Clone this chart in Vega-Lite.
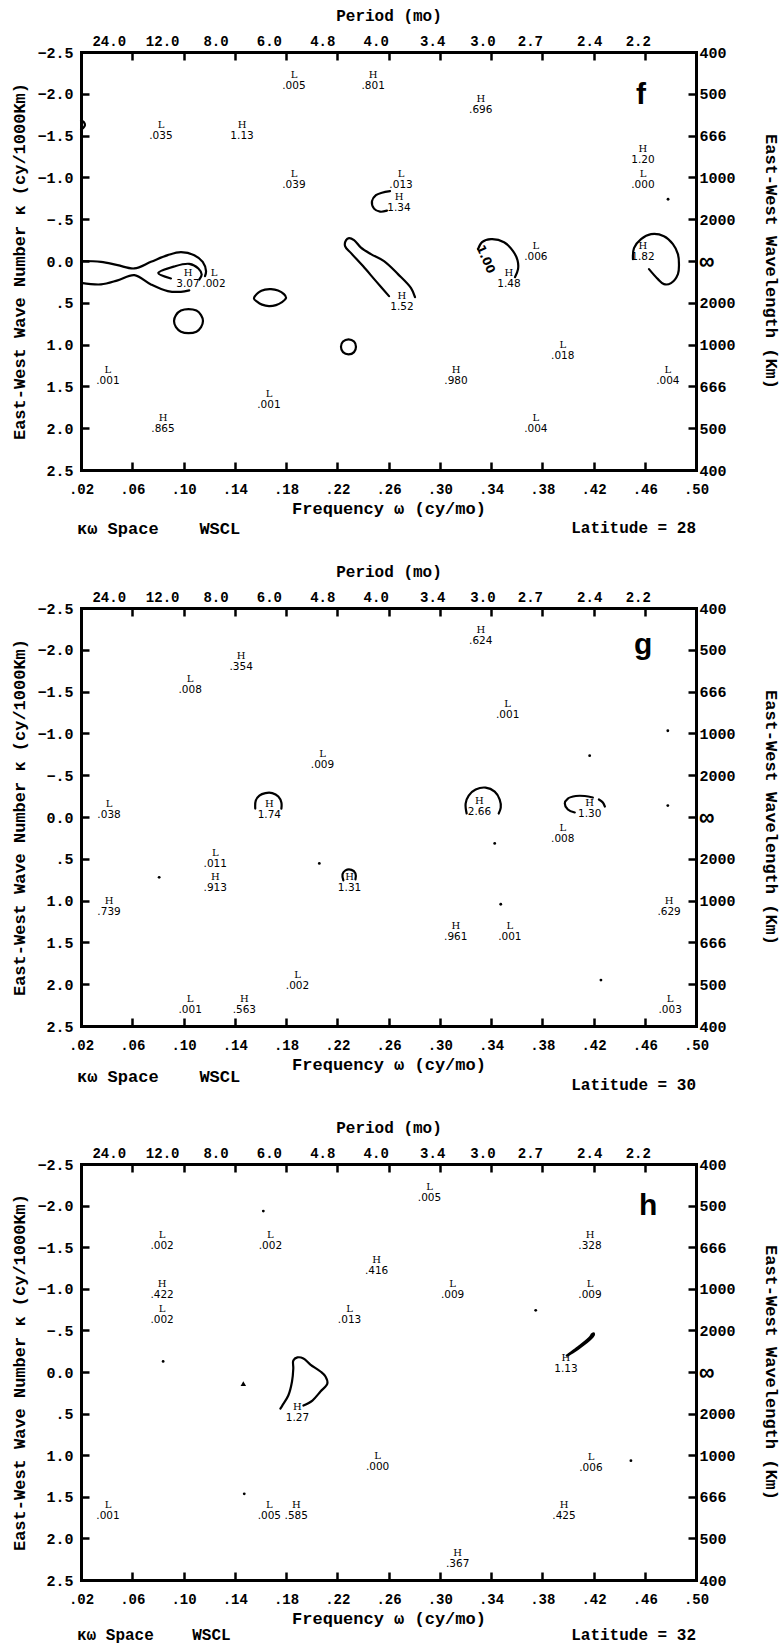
{
"$schema": "https://vega.github.io/schema/vega-lite/v6.json",
"background": "white",
"padding": {"left": 10, "top": 7, "right": 0, "bottom": 3},
"spacing": 26,
"config": {
  "view": {"stroke": null},
  "axis": {"grid": false, "labelFlush": false, "labelOverlap": false, "domainColor": "black", "tickColor": "black", "labelColor": "black", "titleColor": "black", "domainWidth": 3, "tickWidth": 2.5, "domainCap": "square", "labelFont": "Liberation Mono", "labelFontWeight": "bold", "labelFontSize": 14, "titleFont": "Liberation Mono", "titleFontWeight": "bold", "titleFontSize": 17}
},
"datasets": {
  "lab": [
    {"p":"f","x":0.1862,"y":-2.162,"t":"L","v":".005"},
    {"p":"f","x":0.248,"y":-2.16,"t":"H","v":".801"},
    {"p":"f","x":0.0824,"y":-1.564,"t":"L","v":".035"},
    {"p":"f","x":0.1457,"y":-1.564,"t":"H","v":"1.13"},
    {"p":"f","x":0.1862,"y":-0.979,"t":"L","v":".039"},
    {"p":"f","x":0.2698,"y":-0.979,"t":"L","v":".013"},
    {"p":"f","x":0.2682,"y":-0.704,"t":"H","v":"1.34"},
    {"p":"f","x":0.332,"y":-1.875,"t":"H","v":".696"},
    {"p":"f","x":0.4586,"y":-1.277,"t":"H","v":"1.20"},
    {"p":"f","x":0.4586,"y":-0.979,"t":"L","v":".000"},
    {"p":"f","x":0.1035,"y":0.205,"t":"H","v":"3.07"},
    {"p":"f","x":0.1238,"y":0.205,"t":"L","v":".002"},
    {"p":"f","x":0.2705,"y":0.479,"t":"H","v":"1.52"},
    {"p":"f","x":0.375,"y":-0.118,"t":"L","v":".006"},
    {"p":"f","x":0.354,"y":0.205,"t":"H","v":"1.48"},
    {"p":"f","x":0.4586,"y":-0.112,"t":"H","v":"1.82"},
    {"p":"f","x":0.396,"y":1.065,"t":"L","v":".018"},
    {"p":"f","x":0.3127,"y":1.364,"t":"H","v":".980"},
    {"p":"f","x":0.478,"y":1.364,"t":"L","v":".004"},
    {"p":"f","x":0.375,"y":1.938,"t":"L","v":".004"},
    {"p":"f","x":0.041,"y":1.364,"t":"L","v":".001"},
    {"p":"f","x":0.1667,"y":1.651,"t":"L","v":".001"},
    {"p":"f","x":0.084,"y":1.944,"t":"H","v":".865"},
    {"p":"g","x":0.145,"y":-1.862,"t":"H","v":".354"},
    {"p":"g","x":0.1052,"y":-1.581,"t":"L","v":".008"},
    {"p":"g","x":0.2085,"y":-0.686,"t":"L","v":".009"},
    {"p":"g","x":0.0419,"y":-0.0955,"t":"L","v":".038"},
    {"p":"g","x":0.167,"y":-0.09,"t":"H","v":"1.74"},
    {"p":"g","x":0.332,"y":-2.166,"t":"H","v":".624"},
    {"p":"g","x":0.353,"y":-1.289,"t":"L","v":".001"},
    {"p":"g","x":0.331,"y":-0.125,"t":"H","v":"2.66"},
    {"p":"g","x":0.417,"y":-0.107,"t":"H","v":"1.30"},
    {"p":"g","x":0.396,"y":0.197,"t":"L","v":".008"},
    {"p":"g","x":0.479,"y":1.068,"t":"H","v":".629"},
    {"p":"g","x":0.3125,"y":1.366,"t":"H","v":".961"},
    {"p":"g","x":0.3547,"y":1.366,"t":"L","v":".001"},
    {"p":"g","x":0.4798,"y":2.237,"t":"L","v":".003"},
    {"p":"g","x":0.1248,"y":0.495,"t":"L","v":".011"},
    {"p":"g","x":0.1248,"y":0.782,"t":"H","v":".913"},
    {"p":"g","x":0.2296,"y":0.782,"t":"H","v":"1.31"},
    {"p":"g","x":0.0419,"y":1.074,"t":"H","v":".739"},
    {"p":"g","x":0.189,"y":1.951,"t":"L","v":".002"},
    {"p":"g","x":0.1052,"y":2.243,"t":"L","v":".001"},
    {"p":"g","x":0.1475,"y":2.243,"t":"H","v":".563"},
    {"p":"h","x":0.0833,"y":-1.584,"t":"L","v":".002"},
    {"p":"h","x":0.1678,"y":-1.584,"t":"L","v":".002"},
    {"p":"h","x":0.0833,"y":-0.994,"t":"H","v":".422"},
    {"p":"h","x":0.0833,"y":-0.693,"t":"L","v":".002"},
    {"p":"h","x":0.2507,"y":-1.283,"t":"H","v":".416"},
    {"p":"h","x":0.2296,"y":-0.693,"t":"L","v":".013"},
    {"p":"h","x":0.292,"y":-2.163,"t":"L","v":".005"},
    {"p":"h","x":0.4173,"y":-1.584,"t":"H","v":".328"},
    {"p":"h","x":0.31,"y":-0.994,"t":"L","v":".009"},
    {"p":"h","x":0.4173,"y":-0.994,"t":"L","v":".009"},
    {"p":"h","x":0.3985,"y":-0.105,"t":"H","v":"1.13"},
    {"p":"h","x":0.1889,"y":0.488,"t":"H","v":"1.27"},
    {"p":"h","x":0.0411,"y":1.669,"t":"L","v":".001"},
    {"p":"h","x":0.167,"y":1.669,"t":"L","v":".005"},
    {"p":"h","x":0.188,"y":1.669,"t":"H","v":".585"},
    {"p":"h","x":0.2515,"y":1.078,"t":"L","v":".000"},
    {"p":"h","x":0.418,"y":1.084,"t":"L","v":".006"},
    {"p":"h","x":0.397,"y":1.669,"t":"H","v":".425"},
    {"p":"h","x":0.314,"y":2.241,"t":"H","v":".367"}
  ],
  "lin": [
    {"p":"f","id":"f1","o":1,"x":0.02,"y":0.0},
    {"p":"f","id":"f1","o":2,"x":0.0356,"y":0.01},
    {"p":"f","id":"f1","o":3,"x":0.0486,"y":0.05},
    {"p":"f","id":"f1","o":4,"x":0.0616,"y":0.089},
    {"p":"f","id":"f1","o":5,"x":0.0746,"y":0.01},
    {"p":"f","id":"f1","o":6,"x":0.0877,"y":-0.07},
    {"p":"f","id":"f1","o":7,"x":0.098,"y":-0.106},
    {"p":"f","id":"f1","o":8,"x":0.1084,"y":-0.07},
    {"p":"f","id":"f1","o":9,"x":0.115,"y":0.01},
    {"p":"f","id":"f1","o":10,"x":0.1176,"y":0.121},
    {"p":"f","id":"f1","o":11,"x":0.1168,"y":0.181},
    {"p":"f","id":"f2","o":1,"x":0.02,"y":0.261},
    {"p":"f","id":"f2","o":2,"x":0.0356,"y":0.28},
    {"p":"f","id":"f2","o":3,"x":0.0486,"y":0.232},
    {"p":"f","id":"f2","o":4,"x":0.0616,"y":0.169},
    {"p":"f","id":"f2","o":5,"x":0.0746,"y":0.28},
    {"p":"f","id":"f2","o":6,"x":0.0877,"y":0.36},
    {"p":"f","id":"f2","o":7,"x":0.098,"y":0.369},
    {"p":"f","id":"f2","o":8,"x":0.1045,"y":0.352},
    {"p":"f","id":"f3","o":1,"x":0.0902,"y":0.209},
    {"p":"f","id":"f3","o":2,"x":0.0803,"y":0.145},
    {"p":"f","id":"f3","o":3,"x":0.0928,"y":0.065},
    {"p":"f","id":"f3","o":4,"x":0.1045,"y":0.034},
    {"p":"f","id":"f3","o":5,"x":0.1116,"y":0.089},
    {"p":"f","id":"f3","o":6,"x":0.1142,"y":0.161},
    {"p":"f","id":"f3","o":7,"x":0.1123,"y":0.221},
    {"p":"f","id":"f7","o":1,"x":0.2604,"y":0.42},
    {"p":"f","id":"f7","o":2,"x":0.2502,"y":0.241},
    {"p":"f","id":"f7","o":3,"x":0.2401,"y":0.061},
    {"p":"f","id":"f7","o":4,"x":0.2308,"y":-0.094},
    {"p":"f","id":"f7","o":5,"x":0.2261,"y":-0.178},
    {"p":"f","id":"f7","o":6,"x":0.2269,"y":-0.25},
    {"p":"f","id":"f7","o":7,"x":0.2292,"y":-0.274},
    {"p":"f","id":"f7","o":8,"x":0.2331,"y":-0.25},
    {"p":"f","id":"f7","o":9,"x":0.2385,"y":-0.16},
    {"p":"f","id":"f7","o":10,"x":0.2463,"y":-0.082},
    {"p":"f","id":"f7","o":11,"x":0.2565,"y":0.002},
    {"p":"f","id":"f7","o":12,"x":0.2674,"y":0.157},
    {"p":"f","id":"f7","o":13,"x":0.2776,"y":0.324},
    {"p":"f","id":"f7","o":14,"x":0.2807,"y":0.432},
    {"p":"f","id":"f8","o":1,"x":0.2612,"y":-0.835},
    {"p":"f","id":"f8","o":2,"x":0.2549,"y":-0.817},
    {"p":"f","id":"f8","o":3,"x":0.2502,"y":-0.787},
    {"p":"f","id":"f8","o":4,"x":0.2471,"y":-0.715},
    {"p":"f","id":"f8","o":5,"x":0.2487,"y":-0.626},
    {"p":"f","id":"f8","o":6,"x":0.2534,"y":-0.59},
    {"p":"f","id":"f8","o":7,"x":0.2588,"y":-0.602},
    {"p":"f","id":"f9","o":1,"x":0.3299,"y":-0.142},
    {"p":"f","id":"f9","o":2,"x":0.333,"y":-0.225},
    {"p":"f","id":"f9","o":3,"x":0.34,"y":-0.261},
    {"p":"f","id":"f9","o":4,"x":0.3502,"y":-0.225},
    {"p":"f","id":"f9","o":5,"x":0.3572,"y":-0.118},
    {"p":"f","id":"f9","o":6,"x":0.3607,"y":-0.01},
    {"p":"f","id":"f9","o":7,"x":0.3611,"y":0.097},
    {"p":"f","id":"f9","o":8,"x":0.3587,"y":0.193},
    {"p":"f","id":"f10","o":1,"x":0.4508,"y":-0.022},
    {"p":"f","id":"f10","o":2,"x":0.4516,"y":-0.154},
    {"p":"f","id":"f10","o":3,"x":0.4571,"y":-0.261},
    {"p":"f","id":"f10","o":4,"x":0.4649,"y":-0.321},
    {"p":"f","id":"f10","o":5,"x":0.475,"y":-0.297},
    {"p":"f","id":"f10","o":6,"x":0.482,"y":-0.202},
    {"p":"f","id":"f10","o":7,"x":0.4859,"y":-0.082},
    {"p":"f","id":"f10","o":8,"x":0.4867,"y":0.037},
    {"p":"f","id":"f10","o":9,"x":0.4859,"y":0.157},
    {"p":"f","id":"f10","o":10,"x":0.4805,"y":0.265},
    {"p":"f","id":"f10","o":11,"x":0.475,"y":0.277},
    {"p":"f","id":"f10","o":12,"x":0.4703,"y":0.217},
    {"p":"f","id":"f10","o":13,"x":0.4633,"y":0.097},
    {"p":"f","id":"f11","o":1,"x":0.02,"y":-1.684},
    {"p":"f","id":"f11","o":2,"x":0.0223,"y":-1.66},
    {"p":"f","id":"f11","o":3,"x":0.0231,"y":-1.624},
    {"p":"f","id":"f11","o":4,"x":0.0216,"y":-1.588},
    {"p":"f","id":"f11","o":5,"x":0.02,"y":-1.576},
    {"p":"g","id":"g1","o":1,"x":0.156,"y":-0.101},
    {"p":"g","id":"g1","o":2,"x":0.1564,"y":-0.197},
    {"p":"g","id":"g1","o":3,"x":0.1592,"y":-0.257},
    {"p":"g","id":"g1","o":4,"x":0.1639,"y":-0.286},
    {"p":"g","id":"g1","o":5,"x":0.1693,"y":-0.286},
    {"p":"g","id":"g1","o":6,"x":0.174,"y":-0.245},
    {"p":"g","id":"g1","o":7,"x":0.1764,"y":-0.173},
    {"p":"g","id":"g1","o":8,"x":0.1764,"y":-0.101},
    {"p":"g","id":"g2","o":1,"x":0.321,"y":-0.042},
    {"p":"g","id":"g2","o":2,"x":0.3202,"y":-0.161},
    {"p":"g","id":"g2","o":3,"x":0.3226,"y":-0.257},
    {"p":"g","id":"g2","o":4,"x":0.328,"y":-0.328},
    {"p":"g","id":"g2","o":5,"x":0.3358,"y":-0.352},
    {"p":"g","id":"g2","o":6,"x":0.3429,"y":-0.304},
    {"p":"g","id":"g2","o":7,"x":0.3468,"y":-0.209},
    {"p":"g","id":"g2","o":8,"x":0.3476,"y":-0.113},
    {"p":"g","id":"g2","o":9,"x":0.346,"y":-0.042},
    {"p":"g","id":"g3","o":1,"x":0.4054,"y":-0.054},
    {"p":"g","id":"g3","o":2,"x":0.4,"y":-0.09},
    {"p":"g","id":"g3","o":3,"x":0.3976,"y":-0.161},
    {"p":"g","id":"g3","o":4,"x":0.4,"y":-0.221},
    {"p":"g","id":"g3","o":5,"x":0.4062,"y":-0.251},
    {"p":"g","id":"g3","o":6,"x":0.4132,"y":-0.251},
    {"p":"g","id":"g3","o":7,"x":0.4195,"y":-0.233},
    {"p":"g","id":"g4","o":1,"x":0.4242,"y":-0.209},
    {"p":"g","id":"g4","o":2,"x":0.4273,"y":-0.173},
    {"p":"g","id":"g4","o":3,"x":0.4289,"y":-0.125},
    {"p":"g","id":"g5","o":1,"x":0.2248,"y":0.758},
    {"p":"g","id":"g5","o":2,"x":0.2241,"y":0.686},
    {"p":"g","id":"g5","o":3,"x":0.2264,"y":0.638},
    {"p":"g","id":"g5","o":4,"x":0.2311,"y":0.632},
    {"p":"g","id":"g5","o":5,"x":0.2342,"y":0.674},
    {"p":"g","id":"g5","o":6,"x":0.2342,"y":0.746},
    {"p":"h","id":"h1","o":1,"x":0.1756,"y":0.44},
    {"p":"h","id":"h1","o":2,"x":0.1771,"y":0.404},
    {"p":"h","id":"h1","o":3,"x":0.1818,"y":0.283},
    {"p":"h","id":"h1","o":4,"x":0.1847,"y":0.114},
    {"p":"h","id":"h1","o":5,"x":0.1857,"y":-0.042},
    {"p":"h","id":"h1","o":6,"x":0.1857,"y":-0.139},
    {"p":"h","id":"h1","o":7,"x":0.1889,"y":-0.175},
    {"p":"h","id":"h1","o":8,"x":0.1936,"y":-0.163},
    {"p":"h","id":"h1","o":9,"x":0.199,"y":-0.09},
    {"p":"h","id":"h1","o":10,"x":0.2069,"y":-0.006},
    {"p":"h","id":"h1","o":11,"x":0.2108,"y":0.054},
    {"p":"h","id":"h1","o":12,"x":0.2123,"y":0.139},
    {"p":"h","id":"h1","o":13,"x":0.2069,"y":0.235},
    {"p":"h","id":"h1","o":14,"x":0.2006,"y":0.343},
    {"p":"h","id":"h1","o":15,"x":0.1936,"y":0.404}
  ],
  "loop": [
    {"p":"f","id":"f4","o":1,"x":0.155,"y":0.444},
    {"p":"f","id":"f4","o":2,"x":0.1589,"y":0.372},
    {"p":"f","id":"f4","o":3,"x":0.1636,"y":0.342},
    {"p":"f","id":"f4","o":4,"x":0.1683,"y":0.336},
    {"p":"f","id":"f4","o":5,"x":0.1738,"y":0.354},
    {"p":"f","id":"f4","o":6,"x":0.1784,"y":0.396},
    {"p":"f","id":"f4","o":7,"x":0.18,"y":0.444},
    {"p":"f","id":"f4","o":8,"x":0.1769,"y":0.492},
    {"p":"f","id":"f4","o":9,"x":0.1722,"y":0.528},
    {"p":"f","id":"f4","o":10,"x":0.1667,"y":0.54},
    {"p":"f","id":"f4","o":11,"x":0.1613,"y":0.522},
    {"p":"f","id":"f4","o":12,"x":0.1574,"y":0.486},
    {"p":"f","id":"f5","o":1,"x":0.1152,"y":0.719},
    {"p":"f","id":"f5","o":2,"x":0.1137,"y":0.647},
    {"p":"f","id":"f5","o":3,"x":0.1101,"y":0.593},
    {"p":"f","id":"f5","o":4,"x":0.1039,"y":0.575},
    {"p":"f","id":"f5","o":5,"x":0.098,"y":0.593},
    {"p":"f","id":"f5","o":6,"x":0.0941,"y":0.647},
    {"p":"f","id":"f5","o":7,"x":0.0926,"y":0.719},
    {"p":"f","id":"f5","o":8,"x":0.0941,"y":0.791},
    {"p":"f","id":"f5","o":9,"x":0.098,"y":0.845},
    {"p":"f","id":"f5","o":10,"x":0.1039,"y":0.863},
    {"p":"f","id":"f5","o":11,"x":0.1101,"y":0.845},
    {"p":"f","id":"f5","o":12,"x":0.1137,"y":0.791},
    {"p":"f","id":"f6","o":1,"x":0.2346,"y":1.026},
    {"p":"f","id":"f6","o":2,"x":0.2331,"y":0.964},
    {"p":"f","id":"f6","o":3,"x":0.2288,"y":0.937},
    {"p":"f","id":"f6","o":4,"x":0.2245,"y":0.964},
    {"p":"f","id":"f6","o":5,"x":0.2229,"y":1.026},
    {"p":"f","id":"f6","o":6,"x":0.2245,"y":1.09},
    {"p":"f","id":"f6","o":7,"x":0.2288,"y":1.116},
    {"p":"f","id":"f6","o":8,"x":0.2331,"y":1.09},
    {"p":"h","id":"h2","o":1,"x":0.3992,"y":-0.199},
    {"p":"h","id":"h2","o":2,"x":0.4078,"y":-0.295},
    {"p":"h","id":"h2","o":3,"x":0.4164,"y":-0.404},
    {"p":"h","id":"h2","o":4,"x":0.4187,"y":-0.452},
    {"p":"h","id":"h2","o":5,"x":0.4203,"y":-0.464},
    {"p":"h","id":"h2","o":6,"x":0.4195,"y":-0.428},
    {"p":"h","id":"h2","o":7,"x":0.4125,"y":-0.331},
    {"p":"h","id":"h2","o":8,"x":0.4039,"y":-0.235}
  ],
  "dot": [
    {"p":"f","x":0.4782,"y":-0.739},
    {"p":"g","x":0.478,"y":-1.032},
    {"p":"g","x":0.417,"y":-0.734},
    {"p":"g","x":0.478,"y":-0.137},
    {"p":"g","x":0.3429,"y":0.316},
    {"p":"g","x":0.3476,"y":1.044},
    {"p":"g","x":0.4258,"y":1.951},
    {"p":"g","x":0.081,"y":0.722},
    {"p":"g","x":0.206,"y":0.555},
    {"p":"h","x":0.1623,"y":-1.934},
    {"p":"h","x":0.0841,"y":-0.127},
    {"p":"h","x":0.3749,"y":-0.741},
    {"p":"h","x":0.1474,"y":1.464},
    {"p":"h","x":0.4492,"y":1.066}
  ]
},
"vconcat": [
  {
    "width": 615, "height": 418,
    "resolve": {"axis": {"x": "independent", "y": "independent"}},
    "layer": [
      {"data": {"name": "lin"}, "transform": [{"filter": "datum.p == 'f'"}],
       "mark": {"type": "line", "color": "black", "strokeWidth": 2.2, "interpolate": "catmull-rom", "strokeCap": "round", "strokeJoin": "round"},
       "encoding": {
         "x": {"field": "x", "type": "quantitative", "scale": {"domain": [0.02, 0.5], "nice": false, "zero": false},
               "axis": {"orient": "bottom", "values": [0.02,0.06,0.1,0.14,0.18,0.22,0.26,0.3,0.34,0.38,0.42,0.46,0.5], "labelExpr": "replace(format(datum.value, '.2f'), '0.', '.')", "tickSize": -8, "labelPadding": 20, "title": "Frequency ω (cy/mo)", "titlePadding": 4}},
         "y": {"field": "y", "type": "quantitative", "scale": {"domain": [-2.5, 2.5], "reverse": true, "nice": false, "zero": false},
               "axis": {"orient": "left", "values": [-2.5,-2,-1.5,-1,-0.5,0,0.5,1,1.5,2,2.5], "labelExpr": "datum.value == 0 ? '0.0' : replace(format(datum.value, '.1f'), '0.5', '.5')", "tickSize": -8, "labelPadding": 16, "labelFontSize": 15, "title": "East-West Wave Number κ (cy/1000Km)", "titlePadding": 8}},
         "detail": {"field": "id"}, "order": {"field": "o"}}},
      {"data": {"name": "lab"}, "transform": [{"filter": "datum.p == 'f'"}],
       "mark": {"type": "text", "font": "DejaVu Serif", "fontSize": 10, "dy": -5.5, "color": "black"},
       "encoding": {
         "x": {"field": "x", "type": "quantitative", "scale": {"domain": [0.02, 0.5], "nice": false, "zero": false},
               "axis": {"orient": "top", "values": [0.0416667,0.0833333,0.125,0.1666667,0.2083333,0.25,0.2941176,0.3333333,0.3703704,0.4166667,0.4545455], "labelExpr": "format(1 / datum.value, '.1f')", "ticks": false, "domain": false, "labelPadding": 4, "title": "Period (mo)", "titleFontSize": 16, "titlePadding": 11}},
         "y": {"field": "y", "type": "quantitative", "scale": {"domain": [-2.5, 2.5], "reverse": true, "nice": false, "zero": false},
               "axis": {"orient": "right", "values": [-2.5,-2,-1.5,-1,-0.5,0,0.5,1,1.5,2,2.5], "labelExpr": "datum.value == 0 ? '∞' : format(floor(1000 / abs(datum.value) + 0.000001), 'd')", "tickSize": -8, "labelPadding": 11, "labelFontSize": {"condition": {"test": "datum.value == 0", "value": 24}, "value": 15}, "title": "East-West Wavelength (Km)", "titlePadding": 26}},
         "text": {"field": "t"}}},
      {"data": {"name": "lab"}, "transform": [{"filter": "datum.p == 'f'"}],
       "mark": {"type": "text", "font": "DejaVu Sans", "fontSize": 10.5, "dy": 5.5, "color": "black"},
       "encoding": {
         "x": {"field": "x", "type": "quantitative", "scale": {"domain": [0.02, 0.5], "nice": false, "zero": false},
               "axis": {"orient": "top", "values": [0.06,0.1,0.14,0.18,0.22,0.26,0.3,0.34,0.38,0.42,0.46], "labels": false, "tickSize": -8, "title": null}},
         "y": {"field": "y", "type": "quantitative", "scale": {"domain": [-2.5, 2.5], "reverse": true, "nice": false, "zero": false}, "axis": null},
         "text": {"field": "v"}}},
      {"data": {"name": "loop"}, "transform": [{"filter": "datum.p == 'f'"}],
       "mark": {"type": "line", "color": "black", "strokeWidth": 2.2, "interpolate": "cardinal-closed"},
       "encoding": {
         "x": {"field": "x", "type": "quantitative", "scale": {"domain": [0.02, 0.5], "nice": false, "zero": false}, "axis": null},
         "y": {"field": "y", "type": "quantitative", "scale": {"domain": [-2.5, 2.5], "reverse": true, "nice": false, "zero": false}, "axis": null},
         "detail": {"field": "id"}, "order": {"field": "o"}}},
      {"data": {"name": "dot"}, "transform": [{"filter": "datum.p == 'f'"}],
       "mark": {"type": "point", "filled": true, "color": "black", "size": 8, "opacity": 1},
       "encoding": {
         "x": {"field": "x", "type": "quantitative", "scale": {"domain": [0.02, 0.5], "nice": false, "zero": false}, "axis": null},
         "y": {"field": "y", "type": "quantitative", "scale": {"domain": [-2.5, 2.5], "reverse": true, "nice": false, "zero": false}, "axis": null}}},
      {"data": {"values": [{}]},
       "mark": {"type": "text", "text": "1.00", "angle": 66, "font": "DejaVu Sans", "fontWeight": "bold", "fontSize": 12, "color": "black"},
       "encoding": {
         "x": {"datum": 0.336, "type": "quantitative", "scale": {"domain": [0.02, 0.5], "nice": false, "zero": false}, "axis": null},
         "y": {"datum": -0.022, "type": "quantitative", "scale": {"domain": [-2.5, 2.5], "reverse": true, "nice": false, "zero": false}, "axis": null}}},
      {"data": {"values": [{}]},
       "mark": {"type": "text", "text": "f", "font": "Liberation Sans", "fontWeight": "bold", "fontSize": 30, "baseline": "middle", "color": "black"},
       "encoding": {
         "x": {"datum": 0.457, "type": "quantitative", "scale": {"domain": [0.02, 0.5], "nice": false, "zero": false}, "axis": null},
         "y": {"datum": -1.99, "type": "quantitative", "scale": {"domain": [-2.5, 2.5], "reverse": true, "nice": false, "zero": false}, "axis": null}}},
      {"data": {"values": [{}]},
       "mark": {"type": "text", "text": "κω Space\u00a0\u00a0\u00a0\u00a0WSCL", "align": "left", "baseline": "middle", "dx": -4, "dy": 59, "font": "Liberation Mono", "fontWeight": "bold", "fontSize": 17, "color": "black"},
       "encoding": {
         "x": {"datum": 0.02, "type": "quantitative", "scale": {"domain": [0.02, 0.5], "nice": false, "zero": false}, "axis": null},
         "y": {"datum": 2.5, "type": "quantitative", "scale": {"domain": [-2.5, 2.5], "reverse": true, "nice": false, "zero": false}, "axis": null}}},
      {"data": {"values": [{}]},
       "mark": {"type": "text", "text": "Latitude = 28", "align": "right", "baseline": "middle", "dy": 58, "font": "Liberation Mono", "fontWeight": "bold", "fontSize": 16, "color": "black"},
       "encoding": {
         "x": {"datum": 0.5, "type": "quantitative", "scale": {"domain": [0.02, 0.5], "nice": false, "zero": false}, "axis": null},
         "y": {"datum": 2.5, "type": "quantitative", "scale": {"domain": [-2.5, 2.5], "reverse": true, "nice": false, "zero": false}, "axis": null}}}
    ]
  },
  {
    "width": 615, "height": 418,
    "resolve": {"axis": {"x": "independent", "y": "independent"}},
    "layer": [
      {"data": {"name": "lin"}, "transform": [{"filter": "datum.p == 'g'"}],
       "mark": {"type": "line", "color": "black", "strokeWidth": 2.2, "interpolate": "catmull-rom", "strokeCap": "round", "strokeJoin": "round"},
       "encoding": {
         "x": {"field": "x", "type": "quantitative", "scale": {"domain": [0.02, 0.5], "nice": false, "zero": false},
               "axis": {"orient": "bottom", "values": [0.02,0.06,0.1,0.14,0.18,0.22,0.26,0.3,0.34,0.38,0.42,0.46,0.5], "labelExpr": "replace(format(datum.value, '.2f'), '0.', '.')", "tickSize": -8, "labelPadding": 20, "title": "Frequency ω (cy/mo)", "titlePadding": 4}},
         "y": {"field": "y", "type": "quantitative", "scale": {"domain": [-2.5, 2.5], "reverse": true, "nice": false, "zero": false},
               "axis": {"orient": "left", "values": [-2.5,-2,-1.5,-1,-0.5,0,0.5,1,1.5,2,2.5], "labelExpr": "datum.value == 0 ? '0.0' : replace(format(datum.value, '.1f'), '0.5', '.5')", "tickSize": -8, "labelPadding": 16, "labelFontSize": 15, "title": "East-West Wave Number κ (cy/1000Km)", "titlePadding": 8}},
         "detail": {"field": "id"}, "order": {"field": "o"}}},
      {"data": {"name": "lab"}, "transform": [{"filter": "datum.p == 'g'"}],
       "mark": {"type": "text", "font": "DejaVu Serif", "fontSize": 10, "dy": -5.5, "color": "black"},
       "encoding": {
         "x": {"field": "x", "type": "quantitative", "scale": {"domain": [0.02, 0.5], "nice": false, "zero": false},
               "axis": {"orient": "top", "values": [0.0416667,0.0833333,0.125,0.1666667,0.2083333,0.25,0.2941176,0.3333333,0.3703704,0.4166667,0.4545455], "labelExpr": "format(1 / datum.value, '.1f')", "ticks": false, "domain": false, "labelPadding": 4, "title": "Period (mo)", "titleFontSize": 16, "titlePadding": 11}},
         "y": {"field": "y", "type": "quantitative", "scale": {"domain": [-2.5, 2.5], "reverse": true, "nice": false, "zero": false},
               "axis": {"orient": "right", "values": [-2.5,-2,-1.5,-1,-0.5,0,0.5,1,1.5,2,2.5], "labelExpr": "datum.value == 0 ? '∞' : format(floor(1000 / abs(datum.value) + 0.000001), 'd')", "tickSize": -8, "labelPadding": 11, "labelFontSize": {"condition": {"test": "datum.value == 0", "value": 24}, "value": 15}, "title": "East-West Wavelength (Km)", "titlePadding": 26}},
         "text": {"field": "t"}}},
      {"data": {"name": "lab"}, "transform": [{"filter": "datum.p == 'g'"}],
       "mark": {"type": "text", "font": "DejaVu Sans", "fontSize": 10.5, "dy": 5.5, "color": "black"},
       "encoding": {
         "x": {"field": "x", "type": "quantitative", "scale": {"domain": [0.02, 0.5], "nice": false, "zero": false},
               "axis": {"orient": "top", "values": [0.06,0.1,0.14,0.18,0.22,0.26,0.3,0.34,0.38,0.42,0.46], "labels": false, "tickSize": -8, "title": null}},
         "y": {"field": "y", "type": "quantitative", "scale": {"domain": [-2.5, 2.5], "reverse": true, "nice": false, "zero": false}, "axis": null},
         "text": {"field": "v"}}},
      {"data": {"name": "dot"}, "transform": [{"filter": "datum.p == 'g'"}],
       "mark": {"type": "point", "filled": true, "color": "black", "size": 8, "opacity": 1},
       "encoding": {
         "x": {"field": "x", "type": "quantitative", "scale": {"domain": [0.02, 0.5], "nice": false, "zero": false}, "axis": null},
         "y": {"field": "y", "type": "quantitative", "scale": {"domain": [-2.5, 2.5], "reverse": true, "nice": false, "zero": false}, "axis": null}}},
      {"data": {"values": [{}]},
       "mark": {"type": "text", "text": "g", "font": "Liberation Sans", "fontWeight": "bold", "fontSize": 30, "baseline": "middle", "color": "black"},
       "encoding": {
         "x": {"datum": 0.4587, "type": "quantitative", "scale": {"domain": [0.02, 0.5], "nice": false, "zero": false}, "axis": null},
         "y": {"datum": -2.06, "type": "quantitative", "scale": {"domain": [-2.5, 2.5], "reverse": true, "nice": false, "zero": false}, "axis": null}}},
      {"data": {"values": [{}]},
       "mark": {"type": "text", "text": "κω Space\u00a0\u00a0\u00a0\u00a0WSCL", "align": "left", "baseline": "middle", "dx": -4, "dy": 51, "font": "Liberation Mono", "fontWeight": "bold", "fontSize": 17, "color": "black"},
       "encoding": {
         "x": {"datum": 0.02, "type": "quantitative", "scale": {"domain": [0.02, 0.5], "nice": false, "zero": false}, "axis": null},
         "y": {"datum": 2.5, "type": "quantitative", "scale": {"domain": [-2.5, 2.5], "reverse": true, "nice": false, "zero": false}, "axis": null}}},
      {"data": {"values": [{}]},
       "mark": {"type": "text", "text": "Latitude = 30", "align": "right", "baseline": "middle", "dy": 59, "font": "Liberation Mono", "fontWeight": "bold", "fontSize": 16, "color": "black"},
       "encoding": {
         "x": {"datum": 0.5, "type": "quantitative", "scale": {"domain": [0.02, 0.5], "nice": false, "zero": false}, "axis": null},
         "y": {"datum": 2.5, "type": "quantitative", "scale": {"domain": [-2.5, 2.5], "reverse": true, "nice": false, "zero": false}, "axis": null}}}
    ]
  },
  {
    "width": 615, "height": 416,
    "resolve": {"axis": {"x": "independent", "y": "independent"}},
    "layer": [
      {"data": {"name": "lin"}, "transform": [{"filter": "datum.p == 'h'"}],
       "mark": {"type": "line", "color": "black", "strokeWidth": 2.2, "interpolate": "catmull-rom", "strokeCap": "round", "strokeJoin": "round"},
       "encoding": {
         "x": {"field": "x", "type": "quantitative", "scale": {"domain": [0.02, 0.5], "nice": false, "zero": false},
               "axis": {"orient": "bottom", "values": [0.02,0.06,0.1,0.14,0.18,0.22,0.26,0.3,0.34,0.38,0.42,0.46,0.5], "labelExpr": "replace(format(datum.value, '.2f'), '0.', '.')", "tickSize": -8, "labelPadding": 20, "title": "Frequency ω (cy/mo)", "titlePadding": 4}},
         "y": {"field": "y", "type": "quantitative", "scale": {"domain": [-2.5, 2.5], "reverse": true, "nice": false, "zero": false},
               "axis": {"orient": "left", "values": [-2.5,-2,-1.5,-1,-0.5,0,0.5,1,1.5,2,2.5], "labelExpr": "datum.value == 0 ? '0.0' : replace(format(datum.value, '.1f'), '0.5', '.5')", "tickSize": -8, "labelPadding": 16, "labelFontSize": 15, "title": "East-West Wave Number κ (cy/1000Km)", "titlePadding": 8}},
         "detail": {"field": "id"}, "order": {"field": "o"}}},
      {"data": {"name": "lab"}, "transform": [{"filter": "datum.p == 'h'"}],
       "mark": {"type": "text", "font": "DejaVu Serif", "fontSize": 10, "dy": -5.5, "color": "black"},
       "encoding": {
         "x": {"field": "x", "type": "quantitative", "scale": {"domain": [0.02, 0.5], "nice": false, "zero": false},
               "axis": {"orient": "top", "values": [0.0416667,0.0833333,0.125,0.1666667,0.2083333,0.25,0.2941176,0.3333333,0.3703704,0.4166667,0.4545455], "labelExpr": "format(1 / datum.value, '.1f')", "ticks": false, "domain": false, "labelPadding": 4, "title": "Period (mo)", "titleFontSize": 16, "titlePadding": 11}},
         "y": {"field": "y", "type": "quantitative", "scale": {"domain": [-2.5, 2.5], "reverse": true, "nice": false, "zero": false},
               "axis": {"orient": "right", "values": [-2.5,-2,-1.5,-1,-0.5,0,0.5,1,1.5,2,2.5], "labelExpr": "datum.value == 0 ? '∞' : format(floor(1000 / abs(datum.value) + 0.000001), 'd')", "tickSize": -8, "labelPadding": 11, "labelFontSize": {"condition": {"test": "datum.value == 0", "value": 24}, "value": 15}, "title": "East-West Wavelength (Km)", "titlePadding": 26}},
         "text": {"field": "t"}}},
      {"data": {"name": "lab"}, "transform": [{"filter": "datum.p == 'h'"}],
       "mark": {"type": "text", "font": "DejaVu Sans", "fontSize": 10.5, "dy": 5.5, "color": "black"},
       "encoding": {
         "x": {"field": "x", "type": "quantitative", "scale": {"domain": [0.02, 0.5], "nice": false, "zero": false},
               "axis": {"orient": "top", "values": [0.06,0.1,0.14,0.18,0.22,0.26,0.3,0.34,0.38,0.42,0.46], "labels": false, "tickSize": -8, "title": null}},
         "y": {"field": "y", "type": "quantitative", "scale": {"domain": [-2.5, 2.5], "reverse": true, "nice": false, "zero": false}, "axis": null},
         "text": {"field": "v"}}},
      {"data": {"name": "loop"}, "transform": [{"filter": "datum.p == 'h'"}],
       "mark": {"type": "line", "color": "black", "strokeWidth": 2.2, "interpolate": "cardinal-closed"},
       "encoding": {
         "x": {"field": "x", "type": "quantitative", "scale": {"domain": [0.02, 0.5], "nice": false, "zero": false}, "axis": null},
         "y": {"field": "y", "type": "quantitative", "scale": {"domain": [-2.5, 2.5], "reverse": true, "nice": false, "zero": false}, "axis": null},
         "detail": {"field": "id"}, "order": {"field": "o"}}},
      {"data": {"name": "dot"}, "transform": [{"filter": "datum.p == 'h'"}],
       "mark": {"type": "point", "filled": true, "color": "black", "size": 8, "opacity": 1},
       "encoding": {
         "x": {"field": "x", "type": "quantitative", "scale": {"domain": [0.02, 0.5], "nice": false, "zero": false}, "axis": null},
         "y": {"field": "y", "type": "quantitative", "scale": {"domain": [-2.5, 2.5], "reverse": true, "nice": false, "zero": false}, "axis": null}}},
      {"data": {"values": [{}]},
       "mark": {"type": "point", "shape": "triangle-up", "filled": true, "color": "black", "size": 30, "opacity": 1},
       "encoding": {
         "x": {"datum": 0.1467, "type": "quantitative", "scale": {"domain": [0.02, 0.5], "nice": false, "zero": false}, "axis": null},
         "y": {"datum": 0.139, "type": "quantitative", "scale": {"domain": [-2.5, 2.5], "reverse": true, "nice": false, "zero": false}, "axis": null}}},
      {"data": {"values": [{}]},
       "mark": {"type": "text", "text": "h", "font": "Liberation Sans", "fontWeight": "bold", "fontSize": 30, "baseline": "middle", "color": "black"},
       "encoding": {
         "x": {"datum": 0.4626, "type": "quantitative", "scale": {"domain": [0.02, 0.5], "nice": false, "zero": false}, "axis": null},
         "y": {"datum": -1.994, "type": "quantitative", "scale": {"domain": [-2.5, 2.5], "reverse": true, "nice": false, "zero": false}, "axis": null}}},
      {"data": {"values": [{}]},
       "mark": {"type": "text", "text": "κω Space\u00a0\u00a0\u00a0\u00a0WSCL", "align": "left", "baseline": "middle", "dx": -4, "dy": 55, "font": "Liberation Mono", "fontWeight": "bold", "fontSize": 16, "color": "black"},
       "encoding": {
         "x": {"datum": 0.02, "type": "quantitative", "scale": {"domain": [0.02, 0.5], "nice": false, "zero": false}, "axis": null},
         "y": {"datum": 2.5, "type": "quantitative", "scale": {"domain": [-2.5, 2.5], "reverse": true, "nice": false, "zero": false}, "axis": null}}},
      {"data": {"values": [{}]},
       "mark": {"type": "text", "text": "Latitude = 32", "align": "right", "baseline": "middle", "dy": 55, "font": "Liberation Mono", "fontWeight": "bold", "fontSize": 16, "color": "black"},
       "encoding": {
         "x": {"datum": 0.5, "type": "quantitative", "scale": {"domain": [0.02, 0.5], "nice": false, "zero": false}, "axis": null},
         "y": {"datum": 2.5, "type": "quantitative", "scale": {"domain": [-2.5, 2.5], "reverse": true, "nice": false, "zero": false}, "axis": null}}}
    ]
  }
]
}
